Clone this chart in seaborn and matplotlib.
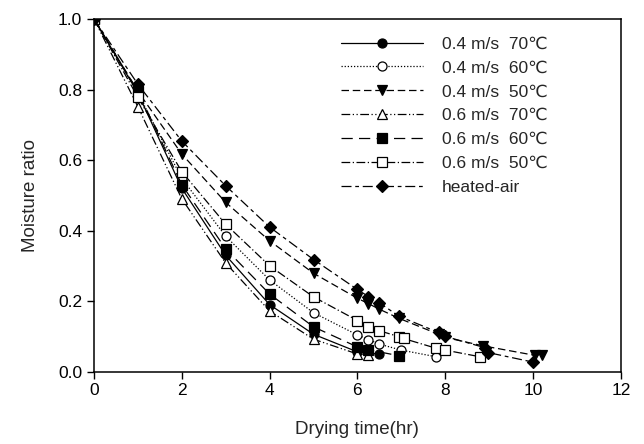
import matplotlib
matplotlib.use("Agg")
import matplotlib.pyplot as plt
import seaborn as sns

# drying curves
t_a = [0, 1, 2, 3, 4, 5, 6, 6.5]
mr_a = [1.0, 0.79, 0.52, 0.33, 0.19, 0.106, 0.056, 0.05]          # 0.4 m/s 70C

t_b = [0, 1, 2, 3, 4, 5, 6, 6.25, 6.5, 7.0, 7.8]
mr_b = [1.0, 0.79, 0.548, 0.384, 0.26, 0.167, 0.104, 0.091, 0.078, 0.061, 0.042]   # 0.4 m/s 60C

t_c = [0, 1, 2, 3, 4, 5, 6, 6.25, 6.5, 6.95, 7.85, 8.0, 8.87, 10.05, 10.2]
mr_c = [1.0, 0.795, 0.617, 0.48, 0.371, 0.279, 0.208, 0.193, 0.177, 0.151,
        0.106, 0.097, 0.073, 0.046, 0.048]                         # 0.4 m/s 50C

t_d = [0, 1, 2, 3, 4, 5, 6, 6.25]
mr_d = [1.0, 0.751, 0.49, 0.308, 0.172, 0.092, 0.05, 0.048]       # 0.6 m/s 70C

t_e = [0, 1, 2, 3, 4, 5, 6, 6.25, 6.95]
mr_e = [1.0, 0.795, 0.53, 0.348, 0.22, 0.127, 0.07, 0.062, 0.045]  # 0.6 m/s 60C

t_f = [0, 1, 2, 3, 4, 5, 6, 6.25, 6.5, 6.95, 7.05, 7.8, 8.0, 8.8]
mr_f = [1.0, 0.778, 0.567, 0.418, 0.30, 0.212, 0.145, 0.127, 0.116, 0.099,
        0.094, 0.066, 0.061, 0.042]                                # 0.6 m/s 50C

t_g = [0, 1, 2, 3, 4, 5, 6, 6.25, 6.5, 6.95, 7.85, 8.0, 8.9, 8.98, 10.0]
mr_g = [1.0, 0.815, 0.654, 0.527, 0.41, 0.318, 0.233, 0.213, 0.195, 0.157,
        0.111, 0.10, 0.068, 0.054, 0.027]                          # heated-air

labels = ["0.4 m/s  70℃", "0.4 m/s  60℃", "0.4 m/s  50℃", "0.6 m/s  70℃",
          "0.6 m/s  60℃", "0.6 m/s  50℃", "heated-air"]

sns.set_style("ticks")
plt.rcParams['font.family'] = ['Liberation Sans', 'DejaVu Sans']

fig = plt.figure(figsize=(6.44, 4.44), dpi=100)
ax = fig.add_axes([0.146, 0.163, 0.818, 0.794])

series = [
    (t_a, mr_a, 'o', 'black', '-'),
    (t_b, mr_b, 'o', 'white', (0, (1, 1.5))),
    (t_c, mr_c, 'v', 'black', (0, (6, 3))),
    (t_d, mr_d, '^', 'white', (0, (7, 2, 1, 2, 1, 2))),
    (t_e, mr_e, 's', 'black', (0, (9, 5))),
    (t_f, mr_f, 's', 'white', (0, (7, 2, 1, 2))),
    (t_g, mr_g, 'D', 'black', (0, (8, 3, 3, 3))),
]
for (t, mr, mk, fc, ls), lab in zip(series, labels):
    sns.lineplot(x=t, y=mr, ax=ax, color='black', linewidth=0.9, linestyle=ls,
                 marker=mk, markersize=6.5 if mk != 'D' else 6, markerfacecolor=fc,
                 markeredgecolor='black', markeredgewidth=0.9, label=lab,
                 sort=False, estimator=None)

ax.set_xlim(0, 12)
ax.set_ylim(0, 1.0)
ax.set_xticks([0, 2, 4, 6, 8, 10, 12])
ax.set_yticks([0.0, 0.2, 0.4, 0.6, 0.8, 1.0])
ax.set_yticklabels(["0.0", "0.2", "0.4", "0.6", "0.8", "1.0"])
ax.tick_params(direction='out', length=5, width=1, labelsize=12.5, colors='black')
for s in ax.spines.values():
    s.set_visible(True)
    s.set_linewidth(1.1)
    s.set_color('black')
ax.set_xlabel("Drying time(hr)", fontsize=13.5, labelpad=16)
ax.set_ylabel("Moisture ratio", fontsize=13.5, labelpad=14)

ax.legend(loc='upper left', bbox_to_anchor=(0.44, 0.995), frameon=False,
          fontsize=12.5, handlelength=4.7, handletextpad=1.1, labelspacing=0.5)

fig.savefig("out.png", dpi=100)
